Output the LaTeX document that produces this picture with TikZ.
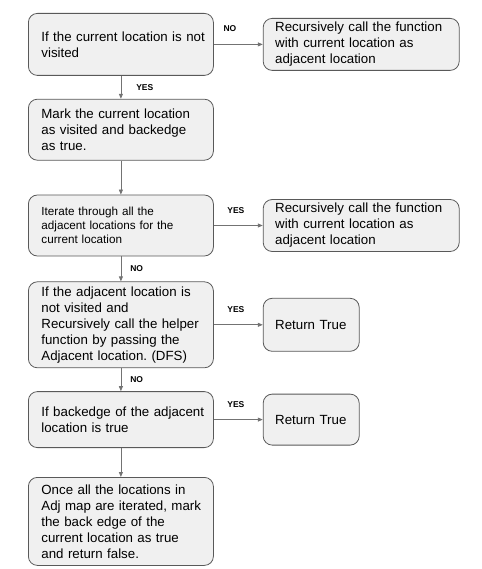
\documentclass[tikz,border=0pt]{standalone}
\usepackage{fontspec}
\setmainfont{Liberation Sans}
\frenchspacing
\usetikzlibrary{positioning,arrows.meta}
\tikzstyle{stepbox} = [draw=black!65,fill=black!6,rounded corners=9pt,line width=0.8pt,
                       align=left,inner xsep=6pt,text width=173pt,
                       execute at begin node={\leftskip=7pt},
                       font=\fontsize{13.3}{16}\selectfont]
\tikzstyle{sidebox} = [stepbox,text width=184pt,
                       execute at begin node={\leftskip=6pt},minimum height=52pt]
\tikzstyle{endbox}  = [stepbox,text width=84pt,
                       execute at begin node={\leftskip=6pt}]
\tikzstyle{lbl}     = [font=\bfseries\fontsize{8.5}{10}\selectfont,inner sep=2pt]

\begin{document}
\begin{tikzpicture}[
      x=1pt,y=-1pt,
      ->,
      >={Triangle[length=5pt,width=4pt]},
      every edge/.style={draw=black!55,line width=0.8pt}]

     \useasboundingbox (0,0) rectangle (481,569);

     \node[stepbox,anchor=north west,minimum height=62pt] (visit) at (28,13)
          {If the current location is not\\visited};
     \node[stepbox,minimum height=61pt] (mark) [below=23pt of visit]
          {Mark the current location\\as visited and backedge\\as true.};
     \node[stepbox,minimum height=61pt,font=\fontsize{11.7}{13.8}\selectfont]
          (iter) [below=34pt of mark]
          {Iterate through all the\\adjacent locations for the\\current location};
     \node[stepbox,minimum height=86pt] (dfs) [below=25pt of iter]
          {If the adjacent location is\\not visited and\\Recursively call the helper\\function by passing the\\Adjacent location. (DFS)};
     \node[stepbox,minimum height=56pt] (back) [below=23pt of dfs]
          {If backedge of the adjacent\\location is true};
     \node[stepbox,minimum height=88pt] (done) [below=29pt of back]
          {Once all the locations in\\Adj map are iterated, mark\\the back edge of the\\current location as true\\and return false.};

     \node[sidebox] (recA) [right=49pt of visit]
          {Recursively call the function\\with current location as\\adjacent location};
     \node[sidebox] (recB) [right=49pt of iter]
          {Recursively call the function\\with current location as\\adjacent location};
     \node[endbox,minimum height=53pt] (retA) [right=49pt of dfs] {Return True};
     \node[endbox,minimum height=51pt] (retB) [right=49pt of back] {Return True};

     \path
       (visit) edge node[lbl,above=10pt,pos=0.33] {NO} (recA)
               edge node[lbl,right=13pt] {YES} (mark)
       (mark)  edge (iter)
       (iter)  edge node[lbl,above=10pt,pos=0.45] {YES} (recB)
               edge node[lbl,right=7pt] {NO} (dfs)
       (dfs)   edge node[lbl,above=10pt,pos=0.45] {YES} (retA)
               edge node[lbl,right=7pt] {NO} (back)
       (back)  edge node[lbl,above=10pt,pos=0.45] {YES} (retB)
               edge (done)
       ;

  \end{tikzpicture}
\end{document}
